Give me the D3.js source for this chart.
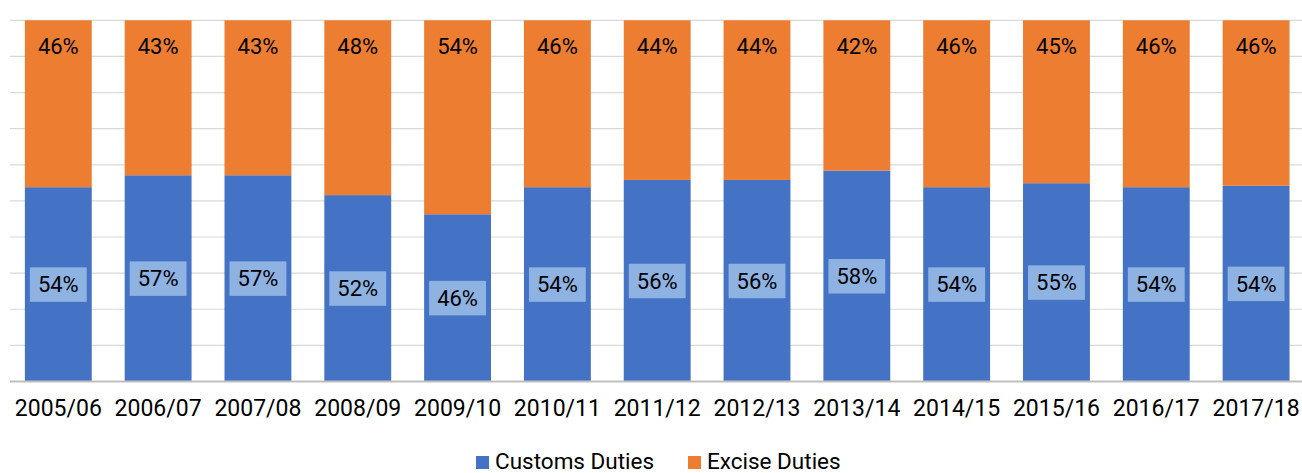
<!DOCTYPE html>
<html><head><meta charset="utf-8">
<script src="https://cdn.jsdelivr.net/npm/d3@7"></script>
<style>body{margin:0;background:#fff}svg{display:block}text{font-family:Roboto,"DejaVu Sans",sans-serif;fill:#000}</style>
</head><body><svg id="c" width="1302" height="473"></svg>
<script>
const categories=["2005/06","2006/07","2007/08","2008/09","2009/10","2010/11","2011/12","2012/13","2013/14","2014/15","2015/16","2016/17","2017/18"];
const customs=[53.8,57.1,57.1,51.6,46.3,53.8,55.8,55.8,58.4,53.8,54.9,53.8,54.2];
const excise=[46.2,42.9,42.9,48.4,53.7,46.2,44.2,44.2,41.6,46.2,45.1,46.2,45.8];
const seriesNames=["Customs Duties","Excise Duties"];
const colors=["#4472C4","#ED7D31"];
const yTicks=[0,10,20,30,40,50,60,70,80,90,100];

const svg=d3.select("#c");
const x=d3.scaleBand().domain(categories).range([8.4,1306]).paddingInner(0.33).paddingOuter(0.165);
const y=d3.scaleLinear().domain([0,100]).range([381.5,20.3]);

// gridlines
svg.append("g").selectAll("line").data(yTicks.slice(1)).join("line")
 .attr("x1",10).attr("x2",1302).attr("y1",d=>y(d)).attr("y2",d=>y(d))
 .attr("stroke","#d9d9d9").attr("stroke-width",1.2);

const rows=categories.map((c,i)=>({c,cu:customs[i],ex:excise[i]}));
const g=svg.append("g");
g.selectAll(".cu").data(rows).join("rect").attr("class","cu")
 .attr("x",d=>x(d.c)).attr("width",x.bandwidth())
 .attr("y",d=>y(d.cu)).attr("height",d=>y(0)-y(d.cu)).attr("fill",colors[0]);
g.selectAll(".ex").data(rows).join("rect").attr("class","ex")
 .attr("x",d=>x(d.c)).attr("width",x.bandwidth())
 .attr("y",d=>y(d.cu+d.ex)).attr("height",d=>y(d.cu)-y(d.cu+d.ex)).attr("fill",colors[1]);

// baseline
svg.append("line").attr("x1",10).attr("x2",1302).attr("y1",y(0)).attr("y2",y(0))
 .attr("stroke","#bfbfbf").attr("stroke-width",2);

// labels
const lab=svg.append("g");
rows.forEach(d=>{
  const cx=x(d.c)+x.bandwidth()/2, cy=(y(0)+y(d.cu))/2;
  lab.append("rect").attr("x",x(d.c)+5).attr("width",x.bandwidth()-10)
    .attr("y",cy-17).attr("height",34.5).attr("fill","#8EB2E2");
  lab.append("text").attr("x",cx).attr("y",cy).attr("dy","0.36em").attr("text-anchor","middle")
    .style("font-size","22px").text(Math.round(d.cu)+"%");
  lab.append("text").attr("x",cx).attr("y",y(d.cu+d.ex)+26).attr("dy","0.36em").attr("text-anchor","middle")
    .style("font-size","22px").text(Math.round(d.ex)+"%");
});

// x axis
const xa=svg.append("g").attr("transform",`translate(0,${y(0)})`).call(d3.axisBottom(x).tickSize(0).tickPadding(18));
xa.select(".domain").remove();
xa.selectAll("text").style("font-size","23px").style("font-family","Roboto,'DejaVu Sans',sans-serif").attr("fill","#000");

// legend
const leg=svg.append("g");
const legX=[476,688];
seriesNames.forEach((n,i)=>{
  leg.append("rect").attr("x",legX[i]).attr("y",456).attr("width",13).attr("height",13).attr("fill",colors[i]);
  leg.append("text").attr("x",legX[i]+19).attr("y",469).style("font-size","22.5px").text(n);
});
</script></body></html>
